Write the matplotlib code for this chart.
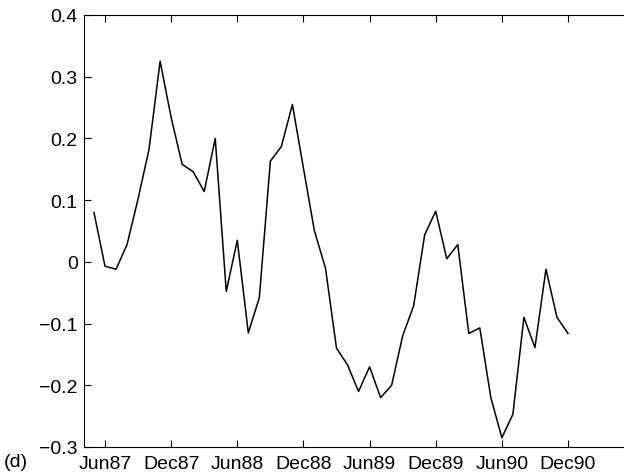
import matplotlib
matplotlib.use("Agg")
import matplotlib.pyplot as plt
import pandas as pd

plt.rcParams['font.family'] = ['Liberation Sans', 'DejaVu Sans']

# monthly series, May 1987 .. Dec 1990
months = pd.period_range('1987-05', '1990-12', freq='M')
values = [0.080, -0.007, -0.012, 0.028, 0.102, 0.183, 0.325, 0.234,
          0.158, 0.146, 0.114, 0.200, -0.048, 0.035, -0.115, -0.058,
          0.163, 0.187, 0.255, 0.152, 0.050, -0.010, -0.140, -0.167,
          -0.210, -0.170, -0.220, -0.200, -0.120, -0.071, 0.044, 0.082,
          0.005, 0.028, -0.116, -0.107, -0.220, -0.285, -0.247, -0.090,
          -0.139, -0.012, -0.090, -0.116]

tick_labels = ['Jun87', 'Dec87', 'Jun88', 'Dec88', 'Jun89', 'Dec89', 'Jun90', 'Dec90']
y_ticks = [-0.3, -0.2, -0.1, 0, 0.1, 0.2, 0.3, 0.4]

# month offsets relative to Jun87
start = pd.Period('1987-06', freq='M')
x = [(m - start).n for m in months]
tick_pos = [(pd.Period(pd.to_datetime(t, format='%b%y'), freq='M') - start).n for t in tick_labels]

fig = plt.figure(figsize=(6.24, 4.77), dpi=100)
# right edge of the box runs just past the canvas
ax = fig.add_axes([0.1346, 0.0608, 0.8686, 0.9057])

ax.plot(x, values, color='black', linewidth=1.1)

ax.set_xlim(-1.905, 47.26)
ax.set_ylim(-0.3, 0.4)
ax.set_xticks(tick_pos)
ax.set_xticklabels(tick_labels)
ax.set_yticks(y_ticks)
ax.set_yticklabels(['\u22120.3', '\u22120.2', '\u22120.1', '0', '0.1', '0.2', '0.3', '0.4'])

ax.tick_params(direction='in', length=5, width=0.8, labelsize=14,
               top=True, right=False)
ax.tick_params(axis='x', pad=5.5)
ax.tick_params(axis='y', pad=4.5)
for s in ax.spines.values():
    s.set_linewidth(0.8)

fig.text(0.006, 0.031, '(d)', fontsize=14, va='center', ha='left')

fig.savefig('out.png', dpi=100)
